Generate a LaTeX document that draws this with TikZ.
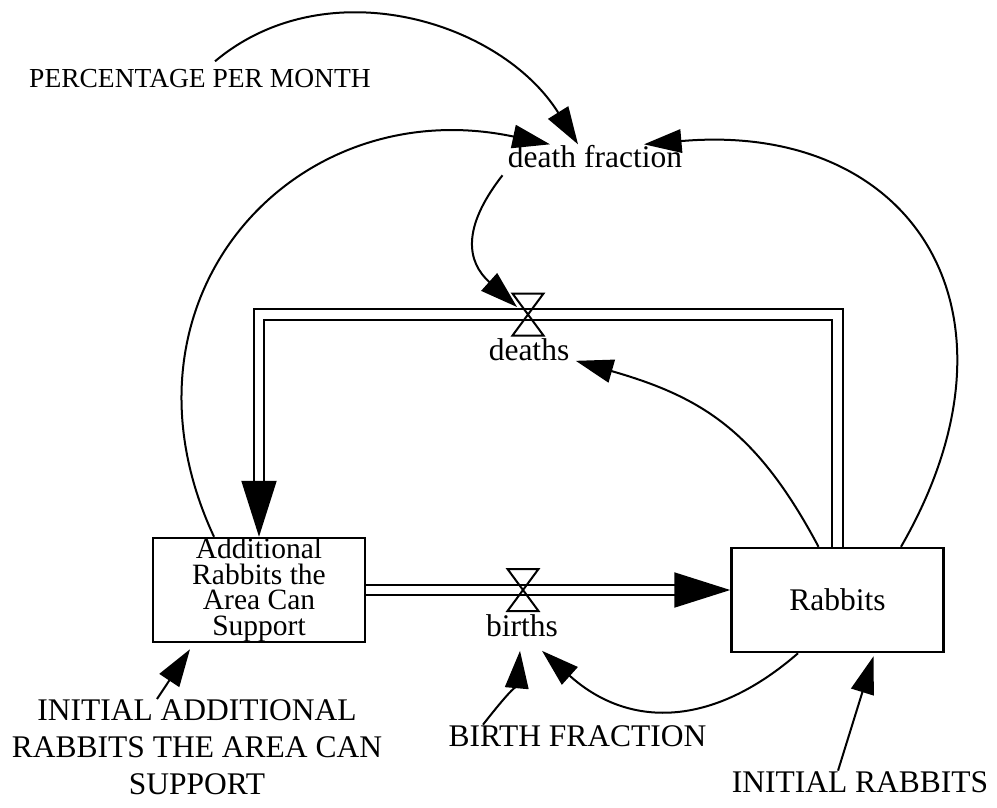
\documentclass[tikz,border=0pt]{standalone}
\usepackage{fontspec}
\setmainfont{Liberation Serif}
\usetikzlibrary{arrows.meta}

\begin{document}
\begin{tikzpicture}[x=0.4pt,y=0.4pt,
    every node/.style={font=\fontsize{12.6}{14.8}\selectfont},
    var/.style={inner sep=0pt},
    level/.style={draw,line width=1pt,minimum width=84.8pt,minimum height=41.6pt,inner sep=0pt,align=center},
    link/.style={line width=0.8pt,-{Triangle[length=15pt,width=9.4pt]}},
    pipe/.style={line width=0.8pt,double,double distance=3.4pt,-{Triangle[length=22.4pt,width=14pt]}},
    valve/.style={line width=0.8pt}]
      \useasboundingbox (0,0) rectangle (997,-807);
      \node[level,font=\fontsize{11.8}{10.3}\selectfont] at (259,-590) (add){Additional\\Rabbits the\\Area Can\\Support};
      \node[level] at (837.5,-600) (rab){Rabbits};
      \node[var,anchor=base] at (595,-167) (df){death fraction};
      \node[var,anchor=base] at (529,-360) (deaths){deaths};
      \node[var,anchor=base] at (522,-636) (births){births};
      \node[var,anchor=base,font=\fontsize{11}{13}\selectfont] at (200,-87) (pct){PERCENTAGE PER MONTH};
      \node[var,anchor=base] at (577.5,-746) (bf){BIRTH FRACTION};
      \node[var,anchor=base] at (860,-792) (ir){INITIAL RABBITS};
      \node[var,anchor=north,align=center] at (197,-699) (ia){INITIAL ADDITIONAL\\RABBITS THE AREA CAN\\SUPPORT};
      \coordinate (dv) at (528,-314.5);
      \coordinate (bv) at (523,-590);
      \draw[pipe] (rab.north) |- (dv) -| (add.north);
      \draw[pipe] (add.east) -- (add.east -| rab.west);
      \draw[valve] (dv) -- ++(-15.5,21) -- ++(31,0) -- cycle (dv) -- ++(-15.5,-21) -- ++(31,0) -- cycle;
      \draw[valve] (bv) -- ++(-15.5,21) -- ++(31,0) -- cycle (bv) -- ++(-15.5,-21) -- ++(31,0) -- cycle;
      \draw[link] ([xshift=6pt,yshift=2.8pt]pct.north) to[out=40,in=122] ([xshift=-6.8pt]df.north);
      \draw[link] ([xshift=-18pt]add.north) to[out=115,in=168,looseness=1.3] ([xshift=-18pt]df.north);
      \draw[link] ([xshift=25.4pt]rab.north) to[out=60,in=5,looseness=1.45] ([xshift=19.6pt]df.north);
      \draw[link] ([xshift=-2pt,yshift=-3pt]df.south west) to[out=232,in=138,looseness=1.3] ([xshift=-4.4pt,yshift=3pt]dv);
      \draw[link] ([xshift=-7.6pt]rab.north) to[out=118,in=344,looseness=1.1] ([xshift=2.4pt]deaths.south east);
      \draw[link] ([xshift=-15.8pt]rab.south) to[out=221,in=318,looseness=1.15] ([xshift=8pt,yshift=-5.6pt]births.south);
      \draw[link] ([xshift=-37.8pt]bf.north) to[out=52,in=265] ([xshift=-0.8pt,yshift=-5.6pt]births.south);
      \draw[link] ([xshift=-16pt]ia.north) -- ([xshift=-27.6pt,yshift=-2.4pt]add.south);
      \draw[link] ([xshift=-8.8pt]ir.north) -- ([xshift=14.4pt,yshift=-1.2pt]rab.south);
    \end{tikzpicture}
\end{document}
